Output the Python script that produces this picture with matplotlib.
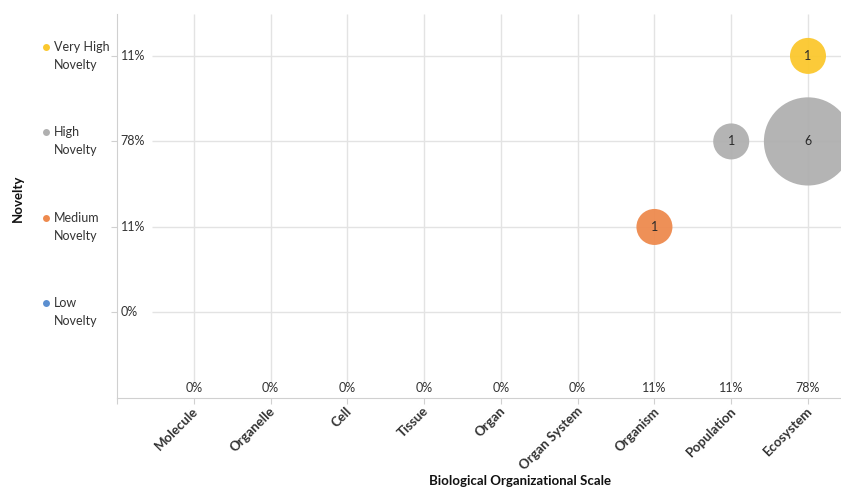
import numpy as np
import matplotlib.pyplot as plt
from matplotlib.transforms import blended_transform_factory

plt.rcParams['font.family'] = ['Lato', 'DejaVu Sans']

# Data
scales = ["Molecule", "Organelle", "Cell", "Tissue", "Organ", "Organ System",
          "Organism", "Population", "Ecosystem"]
scale_pct = ["0%", "0%", "0%", "0%", "0%", "0%", "11%", "11%", "78%"]

levels = ["Low\nNovelty", "Medium\nNovelty", "High\nNovelty", "Very High\nNovelty"]
level_pct = ["0%", "11%", "78%", "11%"]
level_colors = ["#5B8FD0", "#EE8A4E", "#B0B0B0", "#FBC82E"]

# bubbles: (scale index, level index, count)
bubble_scale = [6, 7, 8, 8]
bubble_level = [1, 2, 2, 3]
bubble_count = [1, 1, 6, 1]

fig = plt.figure(figsize=(8.41, 4.92), dpi=100)
ax = fig.add_axes([117 / 841, 1 - 398 / 492, 1 - 117 / 841, (398 - 14) / 492])

xs = np.arange(1, len(scales) + 1)
ys = np.arange(1, len(levels) + 1)
ax.set_xlim(0, 9.43)
ax.set_ylim(0, 4.49)

grid_c = "#E3E3E3"
ax.hlines(ys, 0.456, 9.43, color=grid_c, lw=1, zorder=0)
ax.vlines(xs, 0.175, 4.49, color=grid_c, lw=1, zorder=0)

# bubbles
bx = [xs[i] for i in bubble_scale]
by = [ys[j] for j in bubble_level]
bc = [level_colors[j] for j in bubble_level]
sizes = [672 * c for c in bubble_count]
ax.scatter(bx, by, s=sizes, c=bc, alpha=0.95, edgecolors="none", zorder=3, clip_on=False)
for x, y, c in zip(bx, by, bubble_count):
    ax.text(x, y, str(c), ha="center", va="center", fontsize=9, color="#2a2a2a", zorder=4)

# percentage labels inside the axes
for x, p in zip(xs, scale_pct):
    ax.text(x, 0.117, p, ha="center", va="center", fontsize=9, color="#333333")
for y, p in zip(ys, level_pct):
    ax.text(0.05, y, p, ha="left", va="center", fontsize=9, color="#333333")

# axes styling
for s in ["top", "right"]:
    ax.spines[s].set_visible(False)
for s in ["left", "bottom"]:
    ax.spines[s].set_color("#D0D0D0")
ax.set_xticks(np.arange(0, len(scales) + 1))
ax.set_xticklabels([""] * (len(scales) + 1))
ax.tick_params(axis="x", length=4, color="#D0D0D0")
ax.set_yticks(ys)
ax.set_yticklabels([""] * len(ys))
ax.tick_params(axis="y", length=4, color="#D0D0D0")

for x, name in zip(xs, scales):
    ax.text(x - 0.02, -0.08, name, rotation=45, ha="right", va="top",
            rotation_mode="anchor", fontsize=9.5, fontweight="bold", color="#333333")

# legend on the left
trans = blended_transform_factory(fig.transFigure, ax.transData)
for y, lab, col in zip(ys, levels, level_colors):
    ax.plot([46 / 841], [y + 0.105], marker="o", ms=5, color=col, transform=trans,
            clip_on=False, mec="none")
    ax.text(54 / 841, y, lab, transform=trans, ha="left", va="center",
            fontsize=9, color="#333333", linespacing=1.6)

fig.text(18 / 841, 1 - 198 / 492, "Novelty", rotation=90, ha="center", va="center",
         fontsize=9.5, fontweight="bold", color="#111111")
fig.text(520 / 841, 1 - 481 / 492, "Biological Organizational Scale", ha="center",
         va="center", fontsize=9.5, fontweight="bold", color="#111111")

fig.savefig("out.png", dpi=100)
